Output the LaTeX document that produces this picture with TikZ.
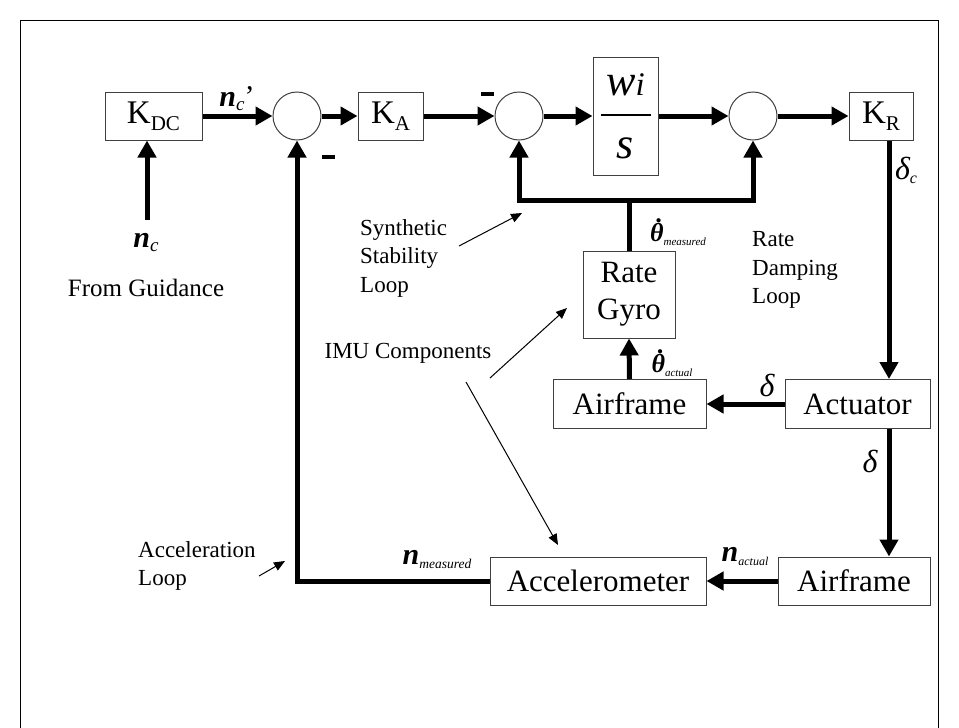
\documentclass[tikz,border=0pt]{standalone}
\usepackage{fontspec}
\setmainfont{Liberation Serif}
\usetikzlibrary{arrows.meta,calc}

\tikzset{
  block/.style={draw=black!75,line width=1pt,inner sep=0pt,align=center,font=\fontsize{31}{37}\selectfont},
  sumnode/.style={circle,draw=black!75,line width=1pt,minimum size=48pt,inner sep=0pt},
  signal/.style={line width=5pt,-{Triangle[length=17pt,width=18pt]}},
  wire/.style={line width=5pt},
  note/.style={inner sep=0pt,align=left,font=\fontsize{23}{28.5}\selectfont},
  pointer/.style={line width=1pt,-{Triangle[length=11pt,width=9pt]}},
  lbl/.style={inner sep=0pt,font=\fontsize{30}{30}\selectfont\itshape}
}
\newcommand{\subtxt}[2]{\raisebox{-4pt}{\fontsize{#1}{#1}\selectfont\mdseries\itshape #2}}
\newcommand{\thdot}{\ooalign{θ\cr\hidewidth\kern0.22em\raisebox{0.72em}{.}\hidewidth\cr}}

\begin{document}
\begin{tikzpicture}[line join=miter,x=1pt,y=-1pt]
\useasboundingbox (0,0) rectangle (959,728);
% frame
\draw[line width=1pt] (20,728) -- (20,20) -- (938,20) -- (938,728);

% forward path
\node[block,minimum width=97pt,minimum height=48pt] (kdc) at (153.5,116) {\fontsize{33}{37}\selectfont K\raisebox{-7pt}{\fontsize{21}{21}\selectfont DC}};
\node[sumnode] (sum1) at (297,116) {};
\node[block,minimum width=65pt,minimum height=48pt] (ka) at (390.5,116) {\fontsize{33}{37}\selectfont K\raisebox{-7pt}{\fontsize{21}{21}\selectfont A}};
\node[sumnode] (sum2) at (519,116) {};
\node[block,minimum width=65pt,minimum height=118pt] (wis) at (625.5,116) {};
\node[sumnode] (sum3) at (753,116) {};
\node[block,minimum width=64pt,minimum height=48pt] (kr) at (881,116) {\fontsize{33}{37}\selectfont K\raisebox{-7pt}{\fontsize{21}{21}\selectfont R}};

% w_i / s inside the block
\node[inner sep=0pt,font=\fontsize{44}{44}\selectfont\itshape] (wnum) at ($(wis.center)+(0,-31)$) {w\fontsize{33}{33}\selectfont i};
\draw[line width=2pt] ($(wis.center)+(-25,-1)$) -- ($(wis.center)+(25,-1)$);
\node[inner sep=0pt,font=\fontsize{44}{44}\selectfont\itshape] (wden) at ($(wis.center)+(0,32)$) {s};

% loop blocks
\node[block,minimum width=92pt,minimum height=87pt] (gyro) at (629,294.5) {Rate\\Gyro};
\node[block,minimum width=153pt,minimum height=49pt] (airup) at (629.5,404) {Airframe};
\node[block,minimum width=145pt,minimum height=49pt] (act) at (857.5,404) {Actuator};
\node[block,minimum width=152pt,minimum height=48pt] (airlow) at (854,581) {Airframe};
\node[block,minimum width=216pt,minimum height=48pt] (accel) at (598,581) {Accelerometer};

% helper coordinates
\coordinate (ncin) at (147,220);
\coordinate (dline) at (889,0);
\coordinate (fb) at (629,200);

% connectors
\draw[signal] (ncin) -- (ncin |- kdc.south);
\draw[signal] (kdc.east) -- (sum1.west);
\draw[signal] (sum1.east) -- (ka.west);
\draw[signal] (ka.east) -- (sum2.west);
\draw[signal] (sum2.east) -- (wis.west);
\draw[signal] (wis.east) -- (sum3.west);
\draw[signal] (sum3.east) -- (kr.west);
\draw[signal] (kr.south -| dline) -- (act.north -| dline);
\draw[signal] (act.west) -- (airup.east);
\draw[signal] (airup.north) -- (gyro.south);
\draw[wire] (gyro.north) -- (fb);
\draw[signal] (fb) -| (sum2.south);
\draw[signal] (fb) -| (sum3.south);
\draw[signal] (act.south -| dline) -- (airlow.north -| dline);
\draw[signal] (airlow.west) -- (accel.east);
\draw[signal] (accel.west) -| (sum1.south);

% minus signs
\node[inner sep=0pt] (minus1) at (328,157) {\rule{13pt}{4pt}};
\node[inner sep=0pt] (minus2) at (487,94) {\rule{13pt}{4pt}};

% signal labels
\node[lbl] (ncp) at (237,99) {\bfseries n\subtxt{19}{c}\upshape\mdseries'};
\node[lbl] (nc) at (146,243) {\bfseries n\subtxt{19}{c}};
\node[lbl] (deltac) at (906,170) {\fontsize{32}{32}\selectfont δ\subtxt{16}{c}};
\node[lbl] (thmeas) at (678,234) {\fontsize{26}{26}\selectfont\bfseries\thdot\subtxt{11}{measured}};
\node[lbl] (thact) at (672,365) {\fontsize{26}{26}\selectfont\bfseries\thdot\subtxt{11}{actual}};
\node[lbl] (delta1) at (767,385) {\fontsize{32}{32}\selectfont δ};
\node[lbl] (delta2) at (870,461) {\fontsize{32}{32}\selectfont δ};
\node[lbl] (nact) at (745,556) {\bfseries n\subtxt{12}{actual}};
\node[lbl] (nmeas) at (437,560) {\bfseries n\subtxt{13.5}{measured}};

% notes
\node[note,font=\fontsize{25}{28.5}\selectfont] (guid) at (146,288) {From Guidance};
\node[note,anchor=west] (ssl) at (360,258) {Synthetic\\Stability\\Loop};
\node[note,anchor=west] (rdl) at (752,270) {Rate\\Damping\\Loop};
\node[note] (imu) at (408,353) {IMU Components};
\node[note,anchor=west] (accl) at (138,566) {Acceleration\\Loop};

% pointers
\coordinate (ssl-tail) at (459,246);
\coordinate (ssl-tip) at (522,213);
\coordinate (imu-tail1) at (490,378);
\coordinate (imu-tip1) at (567,308);
\coordinate (imu-tail2) at (466,382);
\coordinate (imu-tip2) at (558,545);
\coordinate (accl-tail) at (259,576);
\coordinate (accl-tip) at (285,561);
\draw[pointer] (ssl-tail) -- (ssl-tip);
\draw[pointer] (imu-tail1) -- (imu-tip1);
\draw[pointer] (imu-tail2) -- (imu-tip2);
\draw[pointer] (accl-tail) -- (accl-tip);
\end{tikzpicture}
\end{document}
